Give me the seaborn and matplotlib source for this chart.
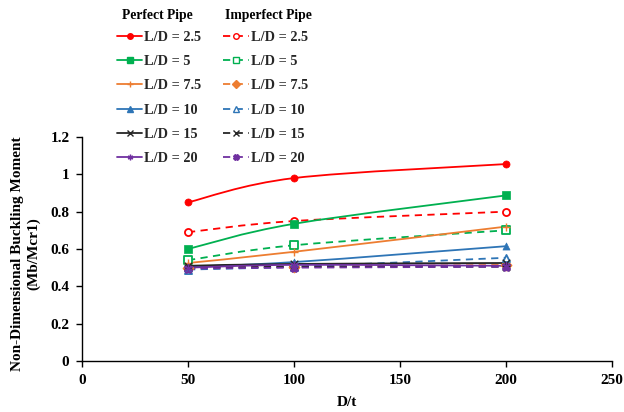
import numpy as np
import pandas as pd
import matplotlib
matplotlib.use("Agg")
import matplotlib.pyplot as plt
from matplotlib.path import Path
from matplotlib.patches import PathPatch
from matplotlib.lines import Line2D
import seaborn as sns

# ---- data ----
dt = [50, 100, 200]
ld_labels = ["L/D = 2.5", "L/D = 5", "L/D = 7.5", "L/D = 10", "L/D = 15", "L/D = 20"]
perfect_25 = [0.85, 0.98, 1.055]
perfect_5 = [0.60, 0.735, 0.887]
perfect_75 = [0.525, 0.585, 0.72]
perfect_10 = [0.505, 0.53, 0.615]
perfect_15 = [0.51, 0.52, 0.525]
perfect_20 = [0.50, 0.515, 0.51]
imperf_25 = [0.69, 0.75, 0.80]
imperf_5 = [0.54, 0.62, 0.70]
imperf_75 = [0.50, 0.505, 0.515]
imperf_10 = [0.49, 0.505, 0.553]
imperf_15 = [0.50, 0.505, 0.505]
imperf_20 = [0.495, 0.50, 0.505]

perfect = [perfect_25, perfect_5, perfect_75, perfect_10, perfect_15, perfect_20]
imperfect = [imperf_25, imperf_5, imperf_75, imperf_10, imperf_15, imperf_20]

colors = ["#FF0000", "#00B050", "#ED7D31", "#2E75B6", "#262626", "#7030A0"]
mk_perf = ["o", "s", "+", "^", "x", (6, 2, 0)]
mk_imp = ["o", "s", "D", "^", "x", "X"]
fill_imp = [False, False, True, False, True, True]

sns.set_theme(style="white")
plt.rcParams["font.family"] = ["Liberation Serif", "DejaVu Serif"]
plt.rcParams["font.weight"] = "bold"

fig = plt.figure(figsize=(6.24, 4.12), dpi=100)
ax = fig.add_axes([82 / 624, 1 - 361 / 412, 530 / 624, 224 / 412])


def smooth_path(xs, ys):
    pts = np.column_stack([xs, ys]).astype(float)
    n = len(pts)
    verts = [pts[0]]
    codes = [Path.MOVETO]
    for i in range(n - 1):
        p0 = pts[max(i - 1, 0)]
        p1 = pts[i]
        p2 = pts[i + 1]
        p3 = pts[min(i + 2, n - 1)]
        c1 = p1 + (p2 - p0) / 6.0
        c2 = p2 - (p3 - p1) / 6.0
        verts += [c1, c2, p2]
        codes += [Path.CURVE4] * 3
    return Path(verts, codes)


lw = 1.3
dash = (0, (4, 3))
for k in range(6):
    for vals, ls in ((perfect[k], "-"), (imperfect[k], dash)):
        p = smooth_path(dt, vals)
        ax.add_patch(PathPatch(p, facecolor="none", edgecolor=colors[k],
                               lw=lw, linestyle=ls, zorder=2))

for k in range(6):
    df = pd.DataFrame({"x": dt, "y": imperfect[k]})
    sns.scatterplot(data=df, x="x", y="y", ax=ax, marker=mk_imp[k], s=26,
                    color=colors[k] if fill_imp[k] else "white",
                    edgecolor=colors[k], linewidth=1.3, zorder=3)
    df = pd.DataFrame({"x": dt, "y": perfect[k]})
    m = mk_perf[k]
    if m in ("+", "x", (6, 2, 0)):
        sns.scatterplot(data=df, x="x", y="y", ax=ax, marker=m, s=30,
                        color=colors[k], linewidth=1.0, zorder=4)
    else:
        sns.scatterplot(data=df, x="x", y="y", ax=ax, marker=m, s=26,
                        color=colors[k], edgecolor=colors[k], linewidth=0.5, zorder=4)

ax.set_xlim(0, 250)
ax.set_ylim(0, 1.2)
ax.set_xticks([0, 50, 100, 150, 200, 250])
ax.set_yticks([0, 0.2, 0.4, 0.6, 0.8, 1.0, 1.2])
ax.set_yticklabels(["0", "0.2", "0.4", "0.6", "0.8", "1", "1.2"])
for s in ("top", "right"):
    ax.spines[s].set_visible(False)
for s in ("left", "bottom"):
    ax.spines[s].set_color("black")
    ax.spines[s].set_linewidth(1.0)
ax.tick_params(axis="both", direction="out", length=4, width=1.0, color="black",
               labelsize=11, labelcolor="black", bottom=True, left=True, pad=5)
for t in ax.get_xticklabels() + ax.get_yticklabels():
    t.set_fontweight("bold")
ax.set_xlabel("D/t", fontsize=11, fontweight="bold", color="black", labelpad=7)
ax.set_ylabel("Non-Dimensional Buckling Moment\n(Mb/Mcr1)", fontsize=11,
              fontweight="bold", color="black", labelpad=7, linespacing=1.3)
ax.yaxis.label.set_y(0.48)
ax.grid(False)

handles = []
labels = []
for k in range(6):
    handles.append(Line2D([], [], color=colors[k], lw=lw, marker=mk_perf[k], markersize=4,
                          markerfacecolor=colors[k], markeredgecolor=colors[k]))
    labels.append(ld_labels[k])
for k in range(6):
    handles.append(Line2D([], [], color=colors[k], lw=lw, linestyle=dash,
                          marker=mk_imp[k], markersize=4,
                          markerfacecolor=colors[k] if fill_imp[k] else "white",
                          markeredgecolor=colors[k]))
    labels.append(ld_labels[k])

leg = fig.legend(handles, labels, ncol=2, loc="upper left",
                 bbox_to_anchor=(117 / 624, 1 - 31 / 412), frameon=False,
                 prop={"family": "Liberation Serif", "weight": "bold", "size": 10.3},
                 handlelength=1.75, handletextpad=0.15, columnspacing=1.55,
                 labelspacing=0.78, borderpad=0, borderaxespad=0)

fig.text(122 / 624, 1 - 16 / 412, "Perfect Pipe", fontsize=9.8, fontweight="bold",
         va="center", ha="left", color="black")
fig.text(225 / 624, 1 - 16 / 412, "Imperfect Pipe", fontsize=9.8, fontweight="bold",
         va="center", ha="left", color="black")

fig.savefig("out.png", dpi=100, facecolor="white")
